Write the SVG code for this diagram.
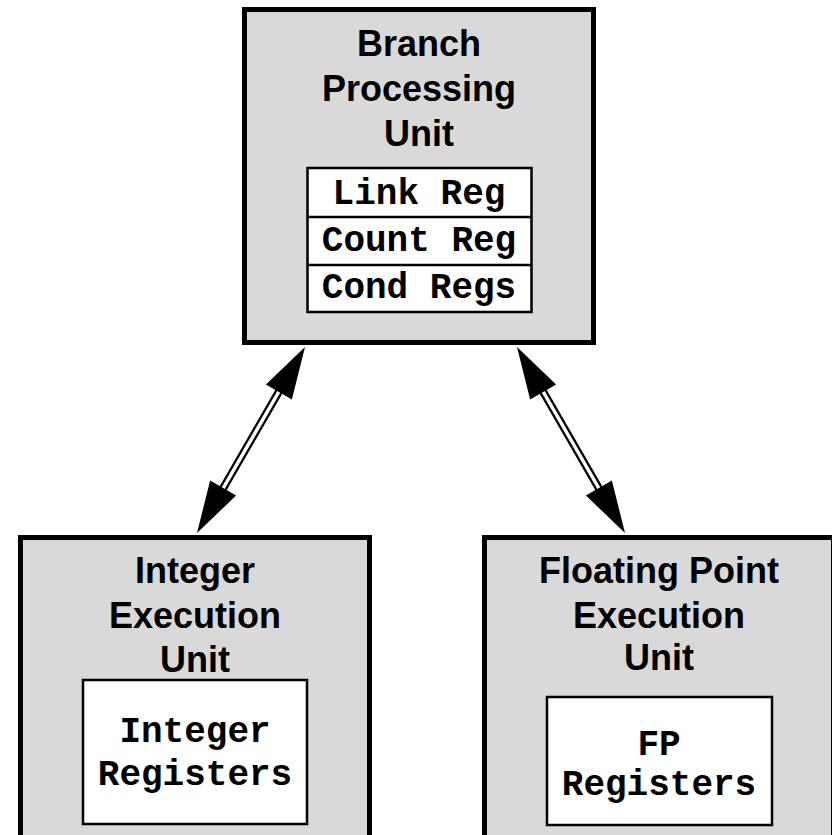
<svg xmlns="http://www.w3.org/2000/svg" width="832" height="835" viewBox="0 0 832 835">
<style>
.unit{fill:#d9d9d9;stroke:#000;stroke-width:5}
.reg{fill:#fff;stroke:#000;stroke-width:2.5}
.t{font-family:"Liberation Sans",Arial,sans-serif;font-weight:bold;font-size:36px;text-anchor:middle;fill:#000}
.m{font-family:"Liberation Mono","Courier New",monospace;font-weight:bold;font-size:36px;text-anchor:middle;fill:#000}
.shaftO{stroke:#000;stroke-width:8;fill:none}
.shaftI{stroke:#fff;stroke-width:3.5;fill:none}
.head{fill:#000}
</style>
<rect width="832" height="835" fill="#fff"/>
<g id="branch">
<rect class="unit" x="244.5" y="9.5" width="349" height="333"/>
<text class="t" x="419" y="56">Branch</text>
<text class="t" x="419" y="101">Processing</text>
<text class="t" x="419" y="146">Unit</text>
<rect class="reg" x="307.5" y="168" width="224" height="144"/>
<line x1="307.5" y1="217" x2="531.5" y2="217" stroke="#000" stroke-width="2.5"/>
<line x1="307.5" y1="265" x2="531.5" y2="265" stroke="#000" stroke-width="2.5"/>
<text class="m" x="419" y="204">Link Reg</text>
<text class="m" x="419" y="251">Count Reg</text>
<text class="m" x="419" y="298">Cond Regs</text>
</g>
<g id="integer">
<rect class="unit" x="20.5" y="537.5" width="349" height="400"/>
<text class="t" x="195" y="583">Integer</text>
<text class="t" x="195" y="628">Execution</text>
<text class="t" x="195" y="672">Unit</text>
<rect class="reg" x="83" y="680" width="224" height="144"/>
<text class="m" x="195" y="742">Integer</text>
<text class="m" x="195" y="785">Registers</text>
</g>
<g id="fp">
<rect class="unit" x="484.5" y="537.5" width="349" height="400"/>
<text class="t" x="659" y="583">Floating Point</text>
<text class="t" x="659" y="628">Execution</text>
<text class="t" x="659" y="670">Unit</text>
<rect class="reg" x="547" y="697" width="225" height="128"/>
<text class="m" x="659" y="755">FP</text>
<text class="m" x="659" y="795">Registers</text>
</g>
<g id="connectors">
<line class="shaftO" x1="281" y1="388" x2="221" y2="492"/>
<line class="shaftI" x1="281" y1="388" x2="221" y2="492"/>
<polygon class="head" points="305,347 291.9,399.5 265.9,384.5"/>
<polygon class="head" points="197,533 236.1,495.5 210.1,480.5"/>
<line class="shaftO" x1="541" y1="388" x2="601" y2="492"/>
<line class="shaftI" x1="541" y1="388" x2="601" y2="492"/>
<polygon class="head" points="517,347 556.1,384.5 530.1,399.5"/>
<polygon class="head" points="625,533 611.9,480.5 585.9,495.5"/>
</g>
</svg>
